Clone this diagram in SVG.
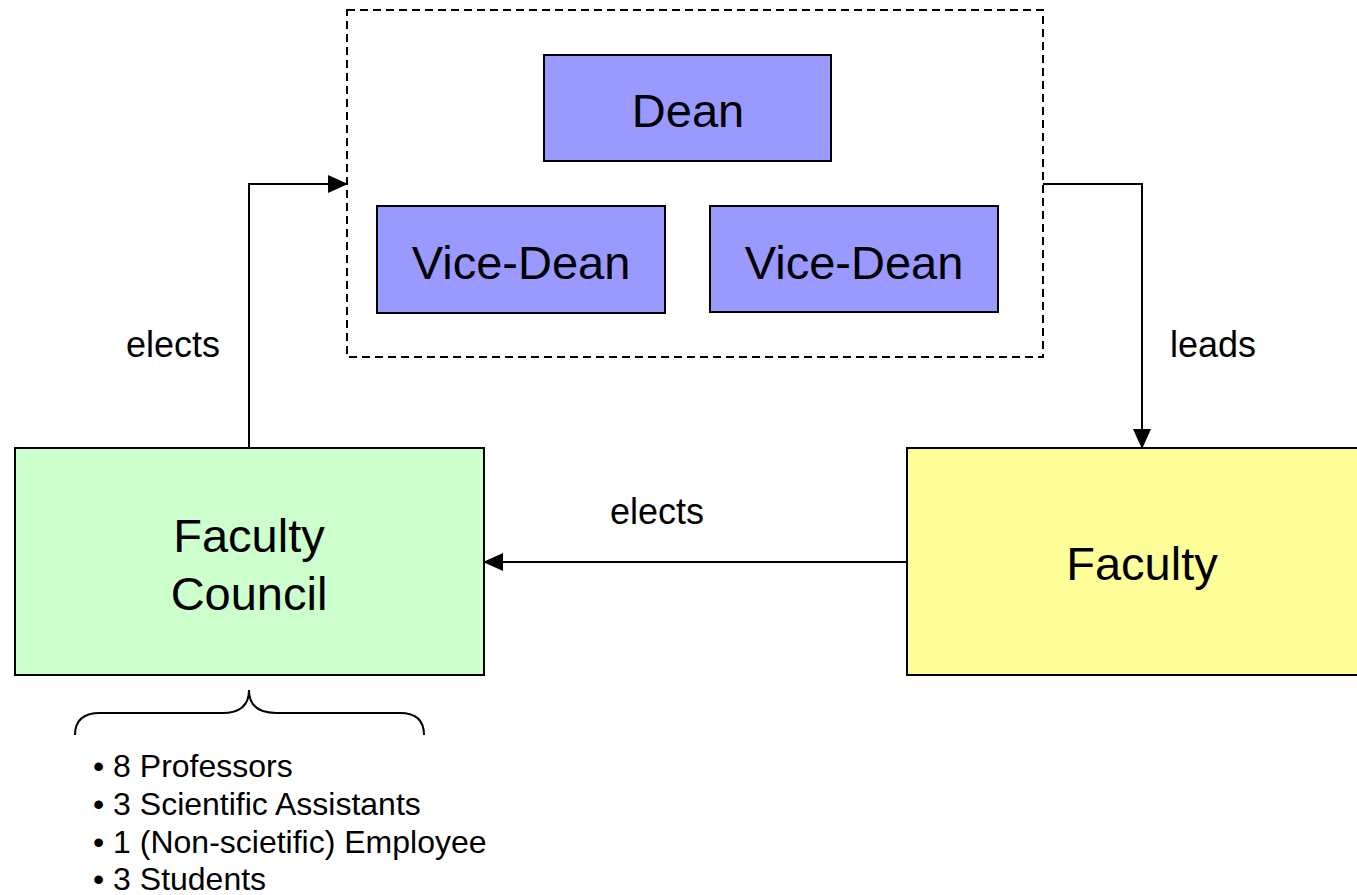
<svg xmlns="http://www.w3.org/2000/svg" width="1357" height="895" viewBox="0 0 1357 895">
<style>
.box{stroke:#000;stroke-width:2}
.t{font-family:"Liberation Sans",Arial,sans-serif;fill:#000;text-anchor:middle}
.big{font-size:47px}
.lbl{font-size:36px}
.li{font-family:"Liberation Sans",Arial,sans-serif;font-size:32px;fill:#000}
.conn{fill:none;stroke:#000;stroke-width:2}
</style>
<defs>
<marker id="ah" markerWidth="20" markerHeight="18" refX="18" refY="9" orient="auto" markerUnits="userSpaceOnUse">
<path d="M0,0 L20,9 L0,18 Z" fill="#000"/>
</marker>
</defs>
<rect width="1357" height="895" fill="#fff"/>
<g id="leadership">
<rect x="347" y="10" width="696" height="347" fill="none" stroke="#000" stroke-width="2" stroke-dasharray="8,5"/>
</g>
<g id="dean">
<rect class="box" x="544" y="55" width="287" height="106" fill="#9999FF"/>
<text class="t big" x="688" y="127">Dean</text>
</g>
<g id="vicedean1">
<rect class="box" x="377" y="206" width="288" height="107" fill="#9999FF"/>
<text class="t big" x="521" y="279">Vice-Dean</text>
</g>
<g id="vicedean2">
<rect class="box" x="710" y="206" width="288" height="106" fill="#9999FF"/>
<text class="t big" x="854" y="279">Vice-Dean</text>
</g>
<g id="council">
<rect class="box" x="15" y="448" width="469" height="227" fill="#CCFFCC"/>
<text class="t big" x="249" y="552">Faculty</text>
<text class="t big" x="249" y="610">Council</text>
</g>
<g id="faculty">
<rect class="box" x="907" y="448" width="470" height="227" fill="#FFFF99"/>
<text class="t big" x="1142" y="580">Faculty</text>
</g>
<g id="connectors">
<path class="conn" d="M249,448 L249,184 L346,184" marker-end="url(#ah)"/>
<path class="conn" d="M1043,184 L1142,184 L1142,447" marker-end="url(#ah)"/>
<path class="conn" d="M907,562 L485,562" marker-end="url(#ah)"/>
<text class="t lbl" x="173" y="357">elects</text>
<text class="t lbl" x="1213" y="357">leads</text>
<text class="t lbl" x="657" y="524">elects</text>
</g>
<g id="members">
<path class="conn" d="M75,735 Q75,713 100,713 L222,713 Q249,713 249,690 Q249,713 276,713 L400,713 Q424,713 424,735"/>
<text class="li" x="93" y="777">• 8 Professors</text>
<text class="li" x="93" y="815">• 3 Scientific Assistants</text>
<text class="li" x="93" y="853">• 1 (Non-scietific) Employee</text>
<text class="li" x="93" y="890">• 3 Students</text>
</g>
</svg>
